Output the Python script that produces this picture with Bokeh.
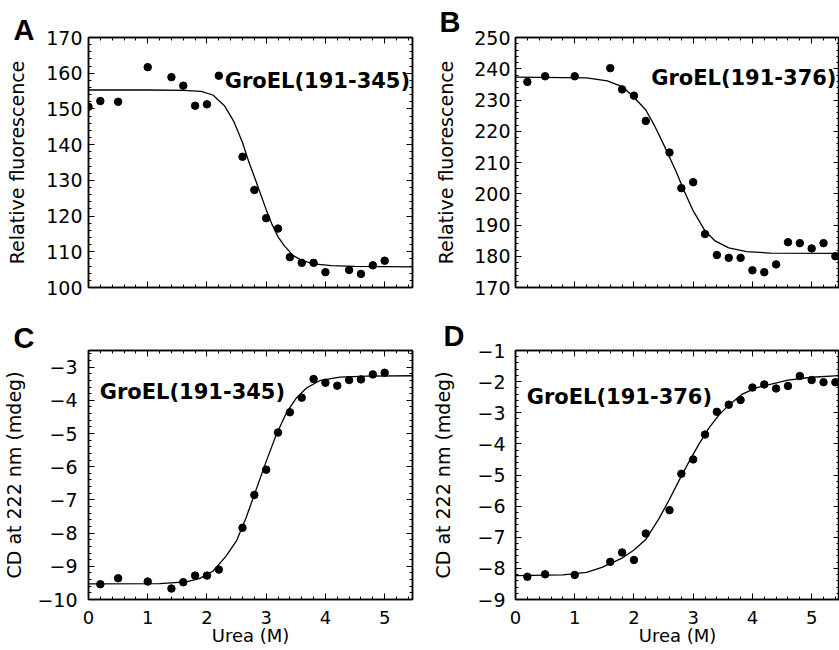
from bokeh.plotting import figure
from bokeh.models import LinearAxis, SingleIntervalTicker, Range1d, Label, CustomLabelingPolicy
from bokeh.layouts import column, row
from bokeh.embed import file_html
from bokeh.resources import INLINE

# ---------------- data ----------------
A_x = [0, 0.2, 0.5, 1.0, 1.4, 1.6, 1.8, 2.0, 2.2, 2.6, 2.8, 3.0, 3.2, 3.4, 3.6, 3.8, 4.0, 4.4, 4.6, 4.8, 5.0]
A_y = [150.6, 152.2, 152.0, 161.7, 158.9, 156.5, 150.9, 151.3, 159.3, 136.6, 127.3, 119.4, 116.5,
       108.5, 106.9, 106.9, 104.3, 104.9, 103.8, 106.2, 107.5]
A_fit_x = [0, 1.0, 1.6, 1.9, 2.1, 2.3, 2.45, 2.6, 2.7, 2.8, 2.9, 3.0, 3.1, 3.2, 3.3, 3.45, 3.6, 3.8, 4.1, 4.5, 5.5]
A_fit_y = [155.3, 155.3, 155.2, 154.9, 153.9, 150.8, 146.6, 140.6, 135.5, 131.0, 126.4, 121.8, 117.6,
           114.2, 111.8, 109.0, 107.6, 106.6, 106.1, 105.9, 105.8]

B_x = [0.2, 0.5, 1.0, 1.6, 1.8, 2.0, 2.2, 2.6, 2.8, 3.0, 3.2, 3.4, 3.6, 3.8, 4.0, 4.2, 4.4, 4.6, 4.8, 5.0, 5.2, 5.4]
B_y = [235.8, 237.6, 237.6, 240.2, 233.4, 231.4, 223.3, 213.2, 201.8, 203.7, 187.1, 180.4, 179.5,
       179.5, 175.5, 174.9, 177.4, 184.5, 184.2, 182.5, 184.2, 180.0]
B_fit_x = [0, 1.2, 1.55, 1.8, 2.0, 2.2, 2.35, 2.5, 2.7, 2.85, 3.0, 3.2, 3.37, 3.6, 3.9, 4.3, 5.5]
B_fit_y = [237.3, 237.1, 236.1, 234.3, 230.9, 226.8, 221.7, 215.8, 207.6, 200.8, 194.5, 188.1, 184.9,
           182.7, 181.5, 181.0, 180.9]

C_x = [0.2, 0.5, 1.0, 1.4, 1.6, 1.8, 2.0, 2.2, 2.6, 2.8, 3.0, 3.2, 3.4, 3.6, 3.8, 4.0, 4.2, 4.4, 4.6, 4.8, 5.0]
C_y = [-9.54, -9.36, -9.46, -9.67, -9.48, -9.28, -9.28, -9.10, -7.84, -6.85, -6.09, -4.97, -4.36,
       -3.92, -3.36, -3.47, -3.56, -3.39, -3.37, -3.22, -3.17]
C_fit_x = [0, 1.2, 1.65, 1.87, 2.1, 2.32, 2.5, 2.66, 2.83, 3.0, 3.17, 3.34, 3.51, 3.68, 3.9, 4.24, 4.7, 5.5]
C_fit_y = [-9.53, -9.52, -9.47, -9.37, -9.15, -8.70, -8.23, -7.54, -6.69, -5.84, -5.04, -4.38, -3.93,
           -3.63, -3.41, -3.30, -3.27, -3.26]

D_x = [0.2, 0.5, 1.0, 1.6, 1.8, 2.0, 2.2, 2.6, 2.8, 3.0, 3.2, 3.4, 3.6, 3.8, 4.0, 4.2, 4.4, 4.6, 4.8, 5.0, 5.2, 5.4]
D_y = [-8.27, -8.19, -8.21, -7.79, -7.49, -7.73, -6.88, -6.13, -4.96, -4.5, -3.7, -2.97, -2.74, -2.59,
       -2.19, -2.09, -2.22, -2.14, -1.82, -1.95, -2.02, -2.02]
D_fit_x = [0, 0.8, 1.2, 1.46, 1.79, 2.0, 2.2, 2.42, 2.6, 2.76, 2.93, 3.1, 3.27, 3.44, 3.61, 3.83, 4.06, 4.6, 5.0, 5.5]
D_fit_y = [-8.23, -8.21, -8.13, -7.97, -7.68, -7.41, -7.07, -6.41, -5.78, -5.18, -4.57, -4.0, -3.48,
           -3.06, -2.74, -2.4, -2.2, -1.95, -1.86, -1.8]

FONT = "DejaVu Sans"
LETTER_FONT = "Liberation Sans"

NO_LABELS = """
try { for (let i = 0; i < indices.size; i++) { indices.unset(i) } } catch (e) {}
return indices
"""


def style_axis(ax, ticker, show_labels, label=None, label_standoff=6, axis_label_standoff=0, size="19px"):
    ax.ticker = ticker
    ax.axis_line_color = "black"
    ax.axis_line_width = 1.5
    ax.major_tick_in = 6
    ax.major_tick_out = 0
    ax.minor_tick_in = 3
    ax.minor_tick_out = 0
    ax.major_tick_line_color = "black"
    ax.minor_tick_line_color = "black"
    ax.major_tick_line_width = 1
    ax.minor_tick_line_width = 1
    if show_labels:
        ax.major_label_text_font = FONT
        ax.major_label_text_font_size = size
        ax.major_label_text_color = "black"
        ax.major_label_standoff = label_standoff
    else:
        ax.major_label_text_font_size = "0px"
        ax.major_label_standoff = 0
        ax.major_label_policy = CustomLabelingPolicy(code=NO_LABELS)
    if label:
        ax.axis_label = label
        ax.axis_label_text_font = FONT
        ax.axis_label_text_font_size = size
        ax.axis_label_text_font_style = "normal"
        ax.axis_label_text_color = "black"
        try:
            ax.axis_label_standoff = axis_label_standoff
        except Exception:
            ax.axis_label_standoff = 0
    else:
        ax.axis_label = None


def panel(width, height, xend, yr, yint, borders, show_x, ylabel, ylab_standoff, ytick_standoff,
          xs, ys, fx, fy, tag, tag_xy, letter, letter_offset, letter_standoff):
    bl, bt, bb, br = borders
    p = figure(width=width, height=height, x_range=Range1d(0, xend), y_range=Range1d(*yr),
               output_backend="svg", toolbar_location=None,
               min_border_left=bl, min_border_top=bt, min_border_bottom=bb, min_border_right=br)
    p.grid.visible = False
    p.background_fill_color = "white"
    p.border_fill_color = "white"
    p.outline_line_color = "black"
    p.outline_line_width = 1.5

    # panel letter as the figure title, pulled to the left of the frame
    p.title.text = letter
    p.title.align = "left"
    p.title.vertical_align = "bottom"
    p.title.offset = letter_offset
    try:
        p.title.standoff = letter_standoff
    except Exception:
        p.title.standoff = 0
    p.title.text_font = LETTER_FONT
    p.title.text_font_size = "29px"
    p.title.text_font_style = "bold"
    p.title.text_color = "black"

    style_axis(p.xaxis[0], SingleIntervalTicker(interval=1, num_minor_ticks=5), show_x,
               "Urea (M)" if show_x else None, label_standoff=11, axis_label_standoff=-2, size="18px")
    style_axis(p.yaxis[0], SingleIntervalTicker(interval=yint, num_minor_ticks=5), True,
               ylabel, label_standoff=ytick_standoff, axis_label_standoff=ylab_standoff)
    top = LinearAxis()
    style_axis(top, SingleIntervalTicker(interval=1, num_minor_ticks=5), False)
    p.add_layout(top, "above")
    right = LinearAxis()
    style_axis(right, SingleIntervalTicker(interval=yint, num_minor_ticks=5), False)
    p.add_layout(right, "right")

    p.line(fx, fy, line_color="black", line_width=1.3)
    p.scatter(xs, ys, size=7.5, color="black")

    p.add_layout(Label(x=tag_xy[0], y=tag_xy[1], text=tag, text_font=FONT, text_font_size="21px",
                       text_font_style="bold", text_color="black", text_baseline="alphabetic"))
    return p


pA = panel(422, 318, 5.47, (100, 170), 10, (88, 37, 31, 10), False, "Relative fluorescence", 15, 6,
           A_x, A_y, A_fit_x, A_fit_y, "GroEL(191-345)", (2.30, 157.8), "A", -75, -16)
pB = panel(417, 318, 5.47, (170, 250), 10, (93, 37, 31, 0), False, "Relative fluorescence", 14, 5,
           B_x, B_y, B_fit_x, B_fit_y, "GroEL(191-376)", (2.29, 236.9), "B", -76, 0)
pC = panel(422, 332, 5.47, (-10, -2.5), 1, (88, 30, 51, 10), True, "CD at 222 nm (mdeg)", 9, 11,
           C_x, C_y, C_fit_x, C_fit_y, "GroEL(191-345)", (0.19, -3.76), "C", -75, -6)
pD = panel(417, 332, 5.47, (-9, -1), 1, (93, 30, 51, 0), True, "CD at 222 nm (mdeg)", 20, 10,
           D_x, D_y, D_fit_x, D_fit_y, "GroEL(191-376)", (0.19, -2.51), "D", -72, -2)

layout = column(row(pA, pB, spacing=0), row(pC, pD, spacing=0), spacing=0)

open("out.html", "w").write(file_html(layout, INLINE))
